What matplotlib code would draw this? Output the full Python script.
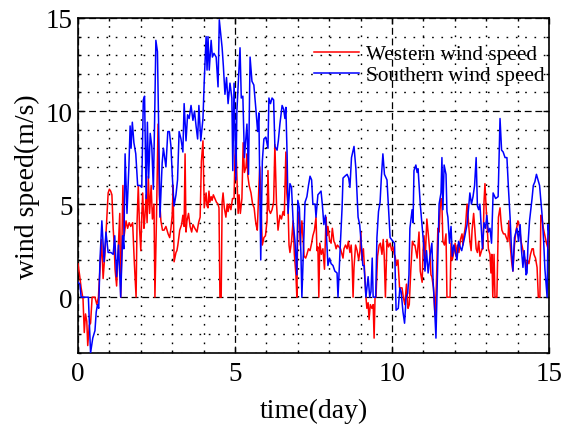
import matplotlib
matplotlib.use("Agg")
import matplotlib.pyplot as plt
from matplotlib.ticker import MultipleLocator

plt.rcParams['font.family'] = ['Liberation Serif', 'DejaVu Serif']

# ---- data ----
t_south = [0.00,0.06,0.10,0.33,0.40,0.47,0.54,0.58,0.62,0.66,0.70,0.76,0.83,0.89,0.96,1.05,1.12,1.17,1.23,1.29,
           1.36,1.42,1.46,1.50,1.56,1.62,1.66,1.69,1.73,1.78,1.84,1.90,1.97,2.03,2.08,2.12,2.17,2.21,2.25,2.30,
           2.35,2.40,2.44,2.48,2.53,2.57,2.61,2.68,2.72,2.80,2.86,2.91,2.96,3.01,3.06,3.12,3.17,3.22,3.28,3.34,
           3.38,3.44,3.49,3.54,3.60,3.66,3.71,3.76,3.81,3.85,3.91,3.98,4.02,4.08,4.11,4.14,4.18,4.24,4.28,4.33,
           4.40,4.46,4.50,4.59,4.63,4.68,4.73,4.78,4.84,4.90,4.93,4.97,5.03,5.06,5.16,5.20,5.25,5.30,5.38,5.43,
           5.48,5.54,5.60,5.67,5.72,5.76,5.82,5.87,5.92,5.98,6.05,6.08,6.13,6.18,6.23,6.27,6.34,6.38,6.43,6.50,
           6.55,6.59,6.62,6.66,6.69,6.75,6.80,6.85,6.91,6.97,7.00,7.05,7.10,7.13,7.18,7.23,7.29,7.34,7.39,7.44,
           7.48,7.55,7.58,7.64,7.74,7.78,7.83,7.88,7.96,8.01,8.06,8.12,8.18,8.25,8.28,8.34,8.41,8.44,8.50,8.57,
           8.62,8.66,8.71,8.79,8.85,8.92,8.97,9.01,9.07,9.11,9.17,9.24,9.29,9.33,9.37,9.40,9.48,9.52,9.57,9.62,
           9.66,9.71,9.76,9.84,9.89,9.94,10.03,10.08,10.13,10.20,10.25,10.29,10.35,10.40,10.45,10.50,10.54,10.57,10.64,10.67,
           10.70,10.76,10.80,10.83,10.90,10.96,11.01,11.05,11.10,11.15,11.21,11.27,11.31,11.34,11.40,11.43,11.46,11.50,11.56,11.59,
           11.62,11.66,11.72,11.75,11.78,11.83,11.88,11.92,11.97,12.02,12.07,12.12,12.17,12.22,12.26,12.31,12.39,12.44,12.48,12.53,
           12.58,12.63,12.68,12.72,12.76,12.80,12.84,12.88,12.93,12.98,13.02,13.07,13.12,13.17,13.22,13.30,13.38,13.44,13.49,13.54,
           13.60,13.66,13.71,13.76,13.80,13.85,13.90,13.98,14.03,14.08,14.12,14.17,14.21,14.27,14.30,14.33,14.38,14.46,14.50,14.55,
           14.60,14.65,14.70,14.78,14.83,14.87,14.94,14.97,15.00]
v_south = [0.8,0.7,0.0,0.0,-3.0,-2.2,-1.8,-0.8,-0.4,-0.6,2.0,4.1,1.9,3.5,2.4,2.4,2.3,3.3,1.1,2.8,
           0.0,3.3,2.6,7.7,4.5,7.0,9.2,8.0,9.4,8.3,7.7,6.0,6.0,5.9,10.6,10.8,5.3,9.4,6.4,8.8,
           8.1,5.8,9.5,13.8,13.2,9.0,4.3,7.2,8.0,7.0,8.9,8.9,8.1,6.3,4.9,5.5,6.3,8.9,8.5,7.8,
           10.4,8.4,9.8,9.6,10.3,9.5,10.0,9.2,8.5,10.3,8.4,9.6,11.6,14.0,12.2,14.0,12.2,13.8,12.9,13.1,
           12.9,11.3,14.9,13.4,12.4,10.9,11.8,10.4,11.5,10.7,6.8,11.5,6.3,10.0,13.4,10.7,10.8,7.5,9.3,6.6,
           12.9,11.6,11.4,10.0,8.9,9.9,2.0,7.3,8.5,8.6,8.0,10.7,10.4,10.7,10.6,8.1,7.9,8.4,9.3,10.3,
           10.1,9.6,10.2,7.6,4.5,6.1,5.9,4.1,3.0,1.2,5.2,4.8,2.3,0.0,2.6,5.1,5.4,6.0,6.5,6.3,
           5.0,5.0,4.3,5.5,5.7,5.0,3.9,4.4,1.7,2.1,1.8,1.7,1.4,1.3,0.0,2.3,4.8,6.4,6.5,6.6,
           6.4,5.9,7.5,8.1,6.9,4.3,3.9,3.1,1.7,1.7,0.0,1.1,0.0,0.3,2.1,0.0,0.0,3.2,4.6,5.1,
           6.4,7.7,6.6,6.3,4.8,3.2,3.0,2.9,-0.7,-0.6,0.5,0.3,-0.8,-1.4,0.0,0.2,1.2,3.7,4.7,4.0,
           6.8,7.1,6.7,6.9,5.0,3.8,2.8,1.4,2.5,1.3,2.2,2.9,0.8,0.0,-2.2,0.0,2.4,5.0,5.6,7.5,
           4.7,7.1,6.6,4.6,4.3,2.9,3.8,2.2,2.8,2.4,2.0,3.0,2.7,2.5,2.8,3.2,3.9,4.8,5.6,5.0,
           5.4,6.0,7.5,4.9,4.7,5.0,3.8,2.6,4.0,3.7,4.4,3.5,3.7,2.9,5.6,5.3,5.4,9.6,7.9,7.8,
           7.5,7.5,5.8,4.3,2.8,1.4,3.2,3.7,3.0,3.9,2.6,1.6,2.5,1.2,1.3,2.8,4.1,5.3,6.0,6.2,
           6.6,6.3,6.0,4.4,3.0,1.5,0.0,3.9,3.4]

t_west = [0.00,0.05,0.10,0.16,0.20,0.24,0.28,0.31,0.36,0.40,0.45,0.54,0.60,0.65,0.70,0.75,0.80,0.86,0.91,0.96,
          1.00,1.04,1.08,1.12,1.15,1.18,1.23,1.28,1.33,1.36,1.40,1.43,1.47,1.53,1.58,1.63,1.68,1.74,1.79,1.85,
          1.88,1.92,1.96,2.00,2.03,2.06,2.10,2.13,2.17,2.20,2.24,2.28,2.33,2.37,2.42,2.45,2.50,2.55,2.59,2.64,
          2.69,2.74,2.80,2.87,2.92,2.96,3.00,3.03,3.06,3.12,3.15,3.18,3.24,3.30,3.34,3.38,3.41,3.44,3.47,3.52,
          3.57,3.62,3.66,3.72,3.79,3.84,3.89,3.93,3.98,4.02,4.08,4.11,4.14,4.17,4.20,4.24,4.27,4.31,4.36,4.41,
          4.46,4.49,4.52,4.56,4.59,4.62,4.66,4.71,4.75,4.78,4.82,4.87,4.92,4.97,5.00,5.03,5.06,5.10,5.13,5.17,
          5.22,5.26,5.30,5.35,5.38,5.41,5.45,5.51,5.56,5.61,5.64,5.67,5.71,5.76,5.79,5.83,5.87,5.92,5.97,6.02,
          6.05,6.08,6.13,6.18,6.23,6.27,6.32,6.37,6.40,6.43,6.48,6.53,6.57,6.62,6.65,6.69,6.72,6.75,6.80,6.85,
          6.89,6.94,6.97,7.00,7.04,7.08,7.13,7.17,7.20,7.25,7.29,7.34,7.39,7.44,7.48,7.53,7.58,7.61,7.64,7.67,
          7.70,7.75,7.80,7.85,7.90,7.93,7.96,8.01,8.06,8.10,8.15,8.18,8.22,8.26,8.31,8.36,8.41,8.44,8.47,8.52,
          8.57,8.61,8.66,8.70,8.73,8.76,8.79,8.84,8.89,8.94,8.98,9.01,9.04,9.09,9.14,9.17,9.20,9.24,9.27,9.31,
          9.36,9.40,9.43,9.46,9.49,9.54,9.59,9.63,9.68,9.72,9.75,9.79,9.84,9.89,9.94,9.99,10.03,10.07,10.10,10.14,
          10.19,10.24,10.32,10.36,10.41,10.46,10.51,10.55,10.60,10.65,10.70,10.73,10.76,10.80,10.86,10.90,10.96,10.99,11.02,11.06,
          11.11,11.16,11.21,11.24,11.27,11.32,11.37,11.41,11.46,11.50,11.53,11.56,11.59,11.62,11.67,11.72,11.75,11.85,11.88,11.92,
          11.97,12.01,12.04,12.08,12.13,12.18,12.23,12.26,12.29,12.34,12.39,12.43,12.48,12.52,12.55,12.60,12.64,12.68,12.72,12.76,
          12.80,12.87,12.90,12.93,12.96,13.02,13.07,13.12,13.15,13.18,13.21,13.25,13.28,13.34,13.39,13.44,13.47,13.50,13.55,13.60,
          13.64,13.69,13.72,13.76,13.81,13.85,13.90,13.95,13.98,14.01,14.06,14.11,14.16,14.20,14.24,14.27,14.31,14.36,14.41,14.46,
          14.50,14.52,14.57,14.62,14.66,14.71,14.74,14.78,14.82,14.87,14.92,14.97,15.00]
v_west = [1.8,1.2,0.5,-0.1,-1.9,-0.9,-1.3,-2.6,-1.5,-1.4,0.0,0.0,-0.4,0.0,1.5,3.1,1.0,2.4,4.0,5.6,
          5.8,5.7,5.5,3.7,2.9,1.5,0.6,2.6,4.5,0.0,3.0,6.0,3.3,4.1,3.7,4.0,3.8,4.0,2.0,0.0,
          4.0,6.0,3.7,2.5,4.3,5.6,3.7,4.3,5.5,4.0,6.5,4.5,6.0,4.2,5.0,0.0,4.3,9.3,5.5,4.1,
          3.6,3.6,3.8,3.4,3.2,3.7,4.4,6.0,1.9,2.4,2.5,2.8,3.6,3.9,4.4,3.8,7.7,3.5,4.1,4.5,
          3.8,3.5,3.9,3.7,3.5,4.0,4.3,7.3,8.4,4.8,5.6,4.9,4.8,5.7,5.1,5.4,5.2,5.5,5.3,5.1,
          5.0,4.8,0.0,0.0,5.1,5.6,4.8,4.3,5.0,4.6,5.0,4.7,5.3,5.3,7.6,8.3,6.5,4.5,5.5,4.5,
          5.3,8.3,6.7,7.0,7.7,6.5,6.0,5.6,5.0,4.8,4.3,3.9,3.6,5.9,7.0,4.7,2.8,3.2,3.3,4.1,
          6.8,4.7,4.5,4.7,5.1,8.2,5.1,3.6,4.0,4.4,4.2,4.6,4.4,7.8,5.6,4.8,2.8,2.4,3.0,4.1,
          2.3,1.2,0.0,3.9,4.6,2.8,4.1,3.1,2.2,2.1,2.3,2.6,2.5,2.9,3.3,3.6,4.3,2.5,2.7,0.0,
          2.9,2.3,2.6,1.5,4.3,3.3,3.8,3.1,2.9,3.7,3.0,2.9,2.6,2.8,2.7,2.6,2.3,2.1,2.6,2.8,
          2.6,3.0,2.4,2.8,1.9,0.0,1.6,2.8,2.5,2.0,2.5,3.5,2.0,2.6,1.0,0.0,-0.6,-0.3,-1.2,-0.4,
          -0.6,-0.4,-2.2,0.0,0.0,2.2,2.8,2.9,2.3,3.1,2.3,0.0,3.1,2.7,2.9,2.5,2.7,2.3,2.2,1.7,
          2.0,0.5,0.5,0.0,-0.4,0.7,-0.6,-0.4,1.5,3.0,2.8,2.8,2.5,2.1,3.5,1.4,0.8,2.5,3.3,2.1,
          4.2,3.3,2.3,1.2,1.1,0.5,-1.0,0.5,3.7,3.5,4.7,5.3,5.0,3.0,2.8,3.4,0.0,0.0,2.9,2.0,
          2.4,2.9,2.2,2.8,2.4,3.1,3.4,2.8,3.3,3.8,5.0,4.2,3.0,2.5,3.6,4.5,3.6,2.6,2.4,3.0,
          2.2,2.6,2.6,5.1,6.1,4.1,2.6,2.3,1.3,2.3,0.0,2.3,0.0,0.0,4.3,4.8,4.1,3.6,3.4,3.4,
          3.2,3.0,4.1,2.9,1.9,1.4,2.8,3.6,3.8,4.1,3.8,3.0,2.6,2.3,2.0,1.6,2.0,1.8,2.3,2.6,
          2.6,2.3,2.1,1.6,0.0,0.0,4.4,4.2,3.7,3.3,2.9,2.6,3.7]

x_ticks = [0, 5, 10, 15]
y_ticks = [0, 5, 10, 15]
labels = ["Western wind speed", "Southern wind speed"]

fig = plt.figure(figsize=(5.64, 4.27), dpi=100)
ax = fig.add_axes([78/564, 1-354/427, (549-78)/564, (354-19)/427])

ax.plot(t_west, v_west, color='#ff0000', lw=1.1, label=labels[0], zorder=3)
ax.plot(t_south, v_south, color='#0000ff', lw=1.1, label=labels[1], zorder=4)

ax.set_xlim(0, 15)
ax.set_ylim(-3, 15)
ax.set_xticks(x_ticks)
ax.set_yticks(y_ticks)
ax.xaxis.set_minor_locator(MultipleLocator(1))
ax.yaxis.set_minor_locator(MultipleLocator(1))
ax.grid(which='major', color='black', linestyle=(0, (5.5, 3.0)), lw=0.9)
ax.grid(which='minor', color='black', linestyle=(0, (1.2, 5.5)), lw=1.0)
ax.set_axisbelow(True)
ax.tick_params(which='both', direction='in', top=True, right=True, labelsize=19.5, width=1.0)
ax.tick_params(which='major', length=4)
ax.tick_params(which='minor', length=2)
ax.tick_params(axis='x', which='major', pad=6)
ax.tick_params(axis='y', which='major', pad=4)
for s in ax.spines.values():
    s.set_linewidth(1.2)

ax.set_xlabel('time(day)', fontsize=20, labelpad=8)
ax.set_ylabel('wind speed(m/s)', fontsize=20, labelpad=4)

leg = ax.legend(loc='upper right', frameon=False, fontsize=15.3, handlelength=2.1,
                handletextpad=0.35, labelspacing=0.05, borderaxespad=0.0, borderpad=0.2,
                bbox_to_anchor=(1.0, 0.934))

fig.savefig('out.png', dpi=100)
